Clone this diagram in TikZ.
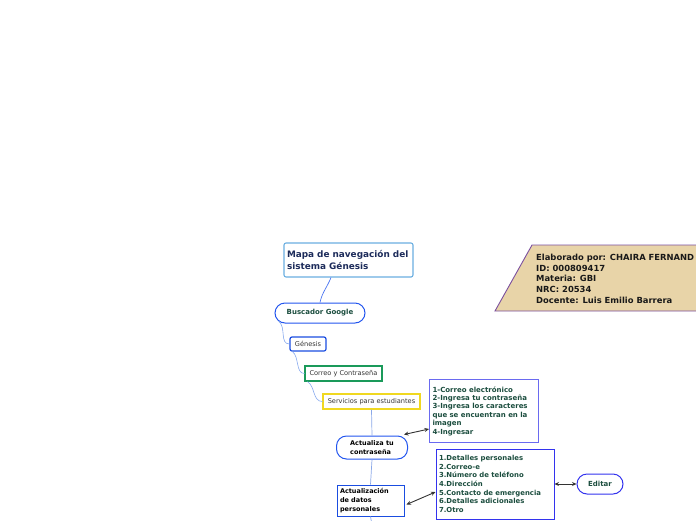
\documentclass[tikz,border=0pt]{standalone}
\usepackage{fontspec}
\setmainfont{DejaVu Sans}
\usetikzlibrary{arrows.meta}
\definecolor{navy}{HTML}{1C2B5A}
\definecolor{dgreen}{HTML}{1B4D3E}
\definecolor{titleb}{HTML}{6AAEE0}
\definecolor{pillb}{HTML}{2255EE}
\definecolor{genb}{HTML}{1A4DE0}
\definecolor{corb}{HTML}{1A9A5A}
\definecolor{serb}{HTML}{F0D820}
\definecolor{boxb}{HTML}{6A6AF0}
\definecolor{detb}{HTML}{3333EE}
\definecolor{tanf}{HTML}{E8D4A8}
\definecolor{tanb}{HTML}{7B4F9E}
\definecolor{lnk}{HTML}{88AAEE}
\definecolor{vln}{HTML}{8AA8E8}
\tikzset{
  bx/.style={draw, line width=1pt, minimum width=#1, inner sep=0pt, anchor=center},
  pill/.style={draw=pillb, line width=1pt, rounded corners=10pt, inner sep=0pt},
  small/.style={font=\fontsize{6.6}{8}\selectfont},
  link/.style={draw=lnk, line width=0.6pt},
  vlink/.style={draw=vln, line width=0.7pt},
  biarrow/.style={draw=black!80, line width=0.9pt, {Stealth[length=4.5pt,width=4pt]}-{Stealth[length=4.5pt,width=4pt]}},
}
\begin{document}
\begin{tikzpicture}[x=1pt,y=-1pt]
\useasboundingbox (0,0) rectangle (696,520);
\clip (0,0) rectangle (696,520);
% info parallelogram
\filldraw[fill=tanf, draw=tanb, line width=0.9pt] (532,245) -- (702,245) -- (702,311) -- (495,311) -- cycle;
\node[anchor=north west, inner sep=0pt, align=left, text=black!90,
  font=\bfseries\fontsize{8.4}{10.7}\selectfont] (info) at (536,254)
  {Elaborado por: CHAIRA FERNAND\\ID: 000809417\\Materia: GBI\\NRC: 20534\\Docente: Luis Emilio Barrera};
% title
\node[bx=129pt, draw=titleb, line width=1.1pt, rounded corners=2pt, minimum height=34pt,
  text width=123pt, align=left, text=navy, font=\bfseries\fontsize{8.9}{12}\selectfont]
  (title) at (348.5,260) {Mapa de navegación del\\sistema Génesis};
% buscador
\node[pill, minimum width=90pt, minimum height=20pt, text=dgreen,
  font=\bfseries\fontsize{7}{8}\selectfont] (busc) at (320,313) {Buscador Google};
% chain
\node[bx=36pt, draw=genb, line width=1.2pt, rounded corners=2pt, minimum height=14pt, small, text=black!80] (gen) at (308,344) {Génesis};
\node[bx=77pt, draw=corb, line width=1.1pt, minimum height=15pt, small, text=black!80] (cor) at (343.5,373.5) {Correo y Contraseña};
\node[bx=97pt, draw=serb, line width=1.1pt, minimum height=15pt, small, text=black!80] (ser) at (371.5,401.5) {Servicios para estudiantes};
% right boxes
\node[bx=109pt, draw=boxb, minimum height=63pt, text width=103pt, align=left, text=dgreen,
  font=\bfseries\fontsize{7}{8.4}\selectfont] (box1) at (484,411)
  {1-Correo electrónico\\2-Ingresa tu contraseña\\3-Ingresa los caracteres\\que se encuentran en la\\imagen\\4-Ingresar};
\node[pill, draw=pillb, minimum width=71pt, minimum height=23pt, align=left, text=black,
  font=\bfseries\fontsize{6.5}{8.6}\selectfont] (act) at (372,447.5) {Actualiza tu\\contraseña};
\node[bx=67pt, draw=genb, minimum height=31pt, text width=61pt, align=left, text=black,
  font=\bfseries\fontsize{6.5}{8.6}\selectfont] (datos) at (370.5,500.5) {Actualización\\de datos\\personales};
\node[bx=118pt, draw=detb, minimum height=70pt, text width=112pt, align=left, text=dgreen,
  font=\bfseries\fontsize{6.9}{8.6}\selectfont] (det) at (495,484)
  {1.Detalles personales\\2.Correo-e\\3.Número de teléfono\\4.Dirección\\5.Contacto de emergencia\\6.Detalles adicionales\\7.Otro};
\node[pill, draw=detb, minimum width=46pt, minimum height=20pt, text=dgreen,
  font=\bfseries\fontsize{7}{8}\selectfont] (edit) at (600,484) {Editar};
\coordinate (bottom) at (371.5,522);
% connectors
\draw[draw=pillb!80, line width=0.7pt] ([xshift=-17.5pt]title.south) .. controls +(-4,10) and +(2,-10) .. (busc.north);
\draw[link] ([xshift=4pt,yshift=2.5pt]busc.south west) .. controls +(8,6) and +(-10,0) .. (gen.west);
\draw[link] ([xshift=3pt]gen.south west) .. controls +(7,5) and +(-9,0) .. (cor.west);
\draw[link] ([xshift=3pt]cor.south west) .. controls +(8,5) and +(-10,0) .. (ser.west);
\draw[vlink] (ser.south) -- (act.north);
\draw[vlink] (act.south) -- (datos.north);
\draw[vlink] (datos.south) -- (bottom);
\draw[biarrow] ([xshift=-4pt,yshift=1pt]act.north east) -- ([yshift=-18pt]box1.west);
\draw[biarrow] ([xshift=2pt,yshift=-4pt]datos.east) -- ([yshift=-8pt]det.west);
\draw[biarrow] (det.east) -- (edit.west);
\end{tikzpicture}
\end{document}
